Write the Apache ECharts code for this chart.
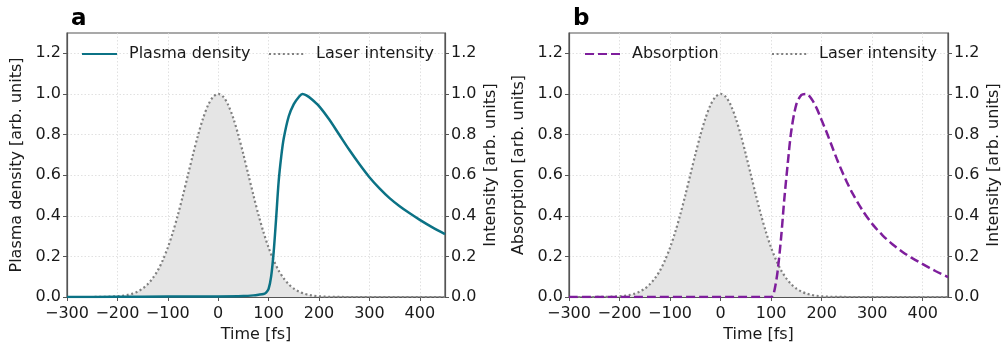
<!DOCTYPE html>
<html>
<head>
<meta charset="utf-8">
<script src="https://cdn.jsdelivr.net/npm/echarts@6/dist/echarts.min.js"></script>
<style>
html,body{margin:0;padding:0;background:#fff;}
#chart{width:1003px;height:343px;}
</style>
</head>
<body>
<div id="chart"></div>
<script>
// ---- data ----
const xTicks = [-300, -200, -100, 0, 100, 200, 300, 400];
const yTicks = [0, 0.2, 0.4, 0.6, 0.8, 1.0, 1.2];

const laserTime = [-300,-250,-240,-230,-220,-210,-200,-190,-180,-170,-160,-150,-140,-130,-120,-110,-100,-90,-80,-70,-60,-50,-40,-30,-20,-10,0,10,20,30,40,50,60,70,80,90,100,110,120,130,140,150,160,170,180,190,200,210,220,230,240,250,450];
const laserValue = [0,0.0001,0.0003,0.0006,0.0011,0.002,0.0035,0.0061,0.0102,0.0168,0.0267,0.0415,0.0625,0.092,0.130,0.181,0.243,0.318,0.404,0.500,0.601,0.702,0.797,0.880,0.945,0.986,1.0,0.986,0.945,0.880,0.797,0.702,0.601,0.500,0.404,0.318,0.243,0.181,0.130,0.092,0.0625,0.0415,0.0267,0.0168,0.0102,0.0061,0.0035,0.002,0.0011,0.0006,0.0003,0.0001,0];

const plasmaTime = [-300,-200,-100,0,50,70,80,90,95,100,105,110,115,120,125,130,140,150,160,167,175,185,200,220,240,260,280,300,320,340,360,380,400,425,450];
const plasmaValue = [0,0.001,0.002,0.003,0.005,0.008,0.011,0.015,0.022,0.04,0.1,0.22,0.39,0.57,0.69,0.78,0.89,0.95,0.985,1.0,0.993,0.975,0.94,0.875,0.80,0.725,0.655,0.59,0.535,0.487,0.447,0.412,0.38,0.343,0.31];

const absTime = [-300,100,104,108,113,120,126,133,140,150,160,170,180,190,200,210,220,230,240,250,260,280,300,320,340,360,380,400,425,450];
const absValue = [0,0,0.01,0.05,0.13,0.30,0.48,0.66,0.82,0.95,0.995,1.0,0.975,0.93,0.87,0.81,0.745,0.68,0.62,0.565,0.515,0.43,0.36,0.305,0.26,0.222,0.19,0.162,0.128,0.098];

const pairs = (t, v) => t.map((x, i) => [x, v[i]]);

const FONT = 'DejaVu Sans';
const AX = '#555555';
const TXT = '#1a1a1a';
const TEAL = '#0b7285';
const PURPLE = '#7e1e9c';
const GRAYLINE = '#808080';

function xAxis(gi) {
  return {
    type: 'value', gridIndex: gi, min: -300, max: 450, interval: 100,
    name: 'Time [fs]', nameLocation: 'middle', nameGap: 30,
    nameTextStyle: {fontFamily: FONT, fontSize: 16, color: TXT},
    axisLine: {onZero: false, lineStyle: {color: AX, width: 1.2}},
    axisTick: {length: 4, lineStyle: {color: AX}, customValues: xTicks},
    axisLabel: {fontFamily: FONT, fontSize: 16, color: TXT, margin: 9, customValues: xTicks,
      formatter: v => (v < 0 ? '\u2212' + Math.abs(v) : String(v))},
    splitLine: {show: true, lineStyle: {color: '#d9d9d9', type: [1.5, 2], width: 0.8}}
  };
}
function yAxis(gi, pos, name, gap, split) {
  return {
    type: 'value', gridIndex: gi, position: pos, min: 0, max: 1.3, interval: 0.2,
    name: name, nameLocation: 'middle', nameGap: gap, nameRotate: 90,
    nameTextStyle: {fontFamily: FONT, fontSize: 16, color: TXT},
    axisLine: {show: true, onZero: false, lineStyle: {color: AX, width: 1.2}},
    axisTick: {show: true, length: 4, lineStyle: {color: AX}, customValues: yTicks},
    axisLabel: {fontFamily: FONT, fontSize: 16, color: TXT, margin: 6, customValues: yTicks,
      formatter: v => v.toFixed(1)},
    splitLine: {show: split, lineStyle: {color: '#d9d9d9', type: [1.5, 2], width: 0.8}}
  };
}
function laserSeries(xi, yi) {
  return {
    name: 'Laser intensity', type: 'line', xAxisIndex: xi, yAxisIndex: yi,
    data: pairs(laserTime, laserValue), smooth: 0.3, symbol: 'none', z: 2,
    lineStyle: {color: GRAYLINE, width: 2.2, type: [2, 2.6]},
    itemStyle: {color: GRAYLINE},
    areaStyle: {color: '#e5e5e5', opacity: 1}
  };
}
function legend(left, name) {
  return {
    left: left, top: 46, data: [name], selectedMode: false,
    itemWidth: 35, itemHeight: 14, padding: 0,
    itemStyle: {opacity: 0},
    textStyle: {fontFamily: FONT, fontSize: 16, color: TXT, padding: [0, 0, 0, 7]}
  };
}

const chart = echarts.init(document.getElementById('chart'), null, {renderer: 'canvas'});
chart.setOption({
  backgroundColor: '#fff',
  animation: false,
  title: [
    {text: 'a', left: 71, top: 8, padding: 0, textStyle: {fontFamily: FONT, fontSize: 23, fontWeight: 'bold', color: '#000'}},
    {text: 'b', left: 573, top: 8, padding: 0, textStyle: {fontFamily: FONT, fontSize: 23, fontWeight: 'bold', color: '#000'}}
  ],
  legend: [
    legend(81, 'Plasma density'),
    legend(268, 'Laser intensity'),
    legend(584, 'Absorption'),
    legend(771, 'Laser intensity')
  ],
  grid: [
    {left: 67, top: 33, width: 378, height: 264, outerBoundsMode: 'none', containLabel: false,
     show: true, borderColor: AX, borderWidth: 1.2, backgroundColor: 'transparent'},
    {left: 569, top: 33, width: 379, height: 264, outerBoundsMode: 'none', containLabel: false,
     show: true, borderColor: AX, borderWidth: 1.2, backgroundColor: 'transparent'}
  ],
  xAxis: [xAxis(0), xAxis(1)],
  yAxis: [
    yAxis(0, 'left', 'Plasma density [arb. units]', 42, true),
    yAxis(0, 'right', 'Intensity [arb. units]', 38, false),
    yAxis(1, 'left', 'Absorption [arb. units]', 42, true),
    yAxis(1, 'right', 'Intensity [arb. units]', 38, false)
  ],
  series: [
    laserSeries(0, 1),
    {
      name: 'Plasma density', type: 'line', xAxisIndex: 0, yAxisIndex: 0,
      data: pairs(plasmaTime, plasmaValue), smooth: 0.3, symbol: 'none', z: 3,
      lineStyle: {color: TEAL, width: 2.5}, itemStyle: {color: TEAL}
    },
    laserSeries(1, 3),
    {
      name: 'Absorption', type: 'line', xAxisIndex: 1, yAxisIndex: 2,
      data: pairs(absTime, absValue), smooth: 0.3, symbol: 'none', z: 3,
      lineStyle: {color: PURPLE, width: 2.5, type: [9, 4]}, itemStyle: {color: PURPLE}
    }
  ]
});
</script>
</body>
</html>
